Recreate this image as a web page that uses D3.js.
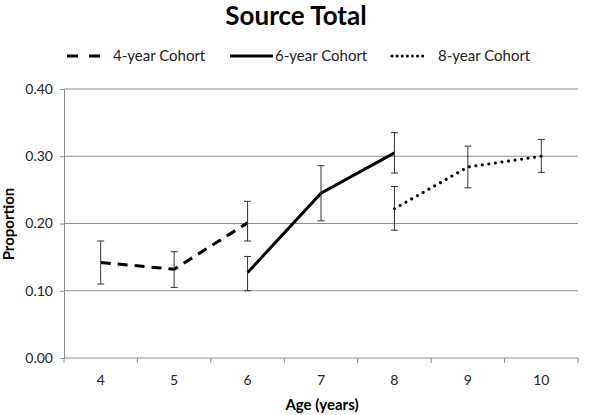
<!DOCTYPE html>
<html>
<head>
<meta charset="utf-8">
<script src="https://d3js.org/d3.v7.min.js"></script>
<style>
  body { margin: 0; background: #fff; }
  text { font-family: Lato, "Open Sans", sans-serif; }
</style>
</head>
<body>
<svg id="chart" width="600" height="415"></svg>
<script>
// ages on the x axis
var ages = ["4", "5", "6", "7", "8", "9", "10"];
var yTicks = [0, 0.1, 0.2, 0.3, 0.4];

// cohort series: age, mean proportion, error bar low/high
var cohortNames = ["4-year Cohort", "6-year Cohort", "8-year Cohort"];
var cohort4Ages = ["4", "5", "6"];
var cohort4Vals = [0.142, 0.132, 0.201];
var cohort4Lo = [0.110, 0.105, 0.174];
var cohort4Hi = [0.174, 0.158, 0.233];

var cohort6Ages = ["6", "7", "8"];
var cohort6Vals = [0.127, 0.245, 0.305];
var cohort6Lo = [0.100, 0.204, 0.275];
var cohort6Hi = [0.151, 0.286, 0.335];

var cohort8Ages = ["8", "9", "10"];
var cohort8Vals = [0.222, 0.284, 0.300];
var cohort8Lo = [0.190, 0.253, 0.276];
var cohort8Hi = [0.255, 0.315, 0.325];

var dashes = ["10,7", null, "0.1,6.5"];

function pack(a, v, lo, hi) {
  return a.map(function(d, i) { return {age: d, v: v[i], lo: lo[i], hi: hi[i]}; });
}
var series = [
  pack(cohort4Ages, cohort4Vals, cohort4Lo, cohort4Hi),
  pack(cohort6Ages, cohort6Vals, cohort6Lo, cohort6Hi),
  pack(cohort8Ages, cohort8Vals, cohort8Lo, cohort8Hi)
];

var svg = d3.select("#chart");
var plotLeft = 64, plotRight = 578, plotTop = 89, plotBottom = 358;

var x = d3.scaleBand().domain(ages).range([plotLeft, plotRight]);
var y = d3.scaleLinear().domain([0, 0.4]).range([plotBottom, plotTop]);

// title
svg.append("text")
  .attr("x", 296).attr("y", 25)
  .attr("text-anchor", "middle")
  .attr("font-size", 26).attr("font-weight", "bold")
  .text("Source Total");

// gridlines
svg.append("g")
  .selectAll("line")
  .data(yTicks.slice(1))
  .enter().append("line")
  .attr("x1", plotLeft).attr("x2", plotRight)
  .attr("y1", function(d) { return y(d); })
  .attr("y2", function(d) { return y(d); })
  .attr("stroke", "#8c8c8c").attr("stroke-width", 1);

// y axis
var yAxis = svg.append("g")
  .attr("transform", "translate(" + plotLeft + ",0)")
  .call(d3.axisLeft(y).tickValues(yTicks).tickFormat(d3.format(".2f")).tickSize(4).tickPadding(7));
yAxis.select(".domain").attr("stroke", "#8c8c8c");
yAxis.selectAll(".tick line").attr("stroke", "#8c8c8c");
yAxis.selectAll("text").attr("font-size", 14).attr("fill", "#222")
  .style("font-family", "Lato, 'Open Sans', sans-serif");

// x axis: ticks between categories
var xAxis = svg.append("g")
  .attr("transform", "translate(0," + plotBottom + ")");
xAxis.append("line")
  .attr("x1", plotLeft).attr("x2", plotRight)
  .attr("stroke", "#8c8c8c");
var edges = ages.map(function(d) { return x(d); }).concat([x(ages[ages.length - 1]) + x.bandwidth()]);
xAxis.selectAll(".tk")
  .data(edges).enter().append("line")
  .attr("x1", function(d) { return d; }).attr("x2", function(d) { return d; })
  .attr("y1", 0).attr("y2", 5)
  .attr("stroke", "#8c8c8c");
xAxis.selectAll(".lbl")
  .data(ages).enter().append("text")
  .attr("x", function(d) { return x(d) + x.bandwidth() / 2; })
  .attr("y", 27)
  .attr("text-anchor", "middle")
  .attr("font-size", 14).attr("fill", "#222")
  .text(function(d) { return d; });

// axis titles
svg.append("text")
  .attr("x", 322).attr("y", 410)
  .attr("text-anchor", "middle")
  .attr("font-size", 15).attr("font-weight", "bold")
  .text("Age (years)");
svg.append("text")
  .attr("transform", "translate(14,224) rotate(-90)")
  .attr("text-anchor", "middle")
  .attr("font-size", 15).attr("font-weight", "bold")
  .text("Proportion");

// lines
var cx = function(d) { return x(d.age) + x.bandwidth() / 2; };
var line = d3.line().x(cx).y(function(d) { return y(d.v); });

series.forEach(function(s, i) {
  svg.append("path")
    .datum(s)
    .attr("d", line)
    .attr("fill", "none")
    .attr("stroke", "#000")
    .attr("stroke-width", 3)
    .attr("stroke-linecap", i === 2 ? "round" : "butt")
    .attr("stroke-dasharray", dashes[i]);
});

// error bars
series.forEach(function(s) {
  var g = svg.append("g").attr("stroke", "#333").attr("stroke-width", 1);
  g.selectAll(".v").data(s).enter().append("line")
    .attr("x1", cx).attr("x2", cx)
    .attr("y1", function(d) { return y(d.lo); })
    .attr("y2", function(d) { return y(d.hi); });
  g.selectAll(".c1").data(s).enter().append("line")
    .attr("x1", function(d) { return cx(d) - 3.5; }).attr("x2", function(d) { return cx(d) + 3.5; })
    .attr("y1", function(d) { return y(d.lo); }).attr("y2", function(d) { return y(d.lo); });
  g.selectAll(".c2").data(s).enter().append("line")
    .attr("x1", function(d) { return cx(d) - 3.5; }).attr("x2", function(d) { return cx(d) + 3.5; })
    .attr("y1", function(d) { return y(d.hi); }).attr("y2", function(d) { return y(d.hi); });
});

// legend
var legendX = [67, 230, 392];
var legendW = [33, 43, 31];
var legendTextX = [113, 275, 438];
cohortNames.forEach(function(name, i) {
  svg.append("line")
    .attr("x1", legendX[i]).attr("x2", legendX[i] + legendW[i])
    .attr("y1", 56).attr("y2", 56)
    .attr("stroke", "#000").attr("stroke-width", 3)
    .attr("stroke-linecap", i === 2 ? "round" : "butt")
    .attr("stroke-dasharray", i === 0 ? "11,11" : (i === 2 ? "0.1,5" : null));
  svg.append("text")
    .attr("x", legendTextX[i]).attr("y", 61)
    .attr("font-size", 15).attr("fill", "#222")
    .text(name);
});
</script>
</body>
</html>
